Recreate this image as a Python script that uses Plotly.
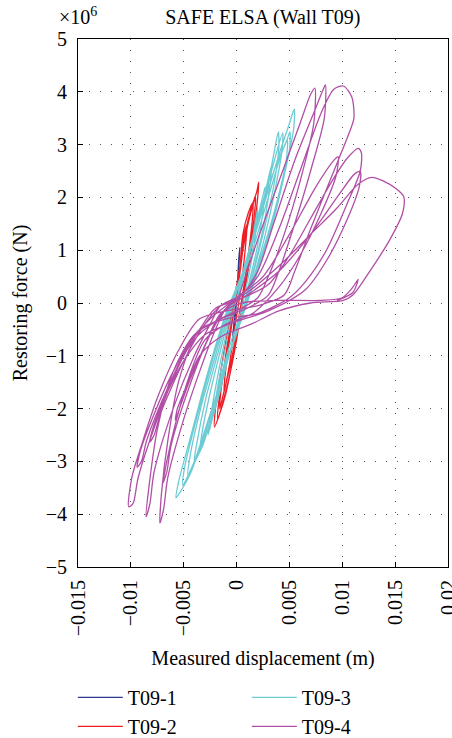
import plotly.graph_objects as go

# ---------------- data (displacement in mm, restoring force in 1e6 N) ----------------
t1_disp = [0.0, 0.1, 0.2, 0.3, 0.25, 0.1, -0.1, -0.3, -0.4, -0.35, -0.1, 0.1, 0.25, 0.2, 0.0, -0.2, -0.35]
t1_force = [0.0, 0.4, 0.8, 1.05, 0.8, 0.3, -0.2, -0.6, -0.8, -0.6, -0.1, 0.4, 0.95, 0.7, 0.1, -0.4, -0.7]

t2_disp = [0.0, 0.3, 0.6, 1.0, 0.9, 0.6, 0.2, -0.2, -0.7, -1.2, -1.1, -0.8, -0.3,
           0.2, 0.6, 1.1, 1.55, 1.5, 1.1, 0.6, 0.1, -0.5, -1.1, -1.6, -1.5, -1.1, -0.5,
           0.2, 0.8, 1.4, 1.9, 2.1, 2.0, 1.6, 1.0, 0.4, -0.3, -1.0, -1.6, -2.1, -2.0, -1.5, -0.8, -0.2,
           0.5, 1.2, 1.8, 1.7, 1.2, 0.6, 0.0, -0.8, -1.8, -1.7, -1.0, -0.3]
t2_force = [0.0, 0.6, 1.2, 1.5, 1.2, 0.6, 0.0, -0.5, -1.2, -1.7, -1.4, -0.9, -0.2,
            0.4, 1.3, 1.7, 1.9, 1.6, 0.9, 0.2, -0.4, -1.1, -1.6, -2.0, -1.7, -1.1, -0.3,
            0.4, 1.3, 1.8, 2.1, 2.29, 2.0, 1.3, 0.5, -0.2, -1.0, -1.7, -2.1, -2.35, -2.0, -1.3, -0.5, 0.1,
            0.9, 1.6, 2.0, 1.7, 0.9, 0.1, -0.7, -1.5, -2.2, -1.9, -1.0, -0.1]

t3_disp = [0.0, 0.8, 1.5, 2.0, 1.9, 1.5, 0.8, 0.2, -0.8, -1.6, -2.0, -1.8, -1.2, -0.5,
           0.3, 1.2, 2.0, 2.7, 2.6, 2.0, 1.2, 0.5, -0.6, -1.6, -2.3, -2.7, -2.5, -1.8, -1.0, -0.3,
           0.6, 1.6, 2.6, 3.3, 3.2, 2.6, 1.7, 0.8, -0.4, -1.6, -2.6, -3.5, -3.3, -2.5, -1.4, -0.4,
           0.5, 1.6, 2.7, 3.5, 3.95, 4.0, 3.5, 2.5, 1.5, 0.7, -0.6, -2.0, -3.2, -4.0, -3.8, -2.9, -1.7, -0.5,
           0.6, 2.0, 3.3, 4.36, 4.3, 3.6, 2.6, 1.5, 0.6, -0.8, -2.3, -3.7, -4.6, -4.4, -3.4, -2.0, -0.6,
           0.7, 2.2, 3.7, 4.7, 5.05, 5.0, 4.2, 3.0, 1.8, 0.8, -0.7, -2.5, -4.0, -5.1, -4.9, -3.8, -2.3, -0.8,
           0.8, 2.5, 4.0, 5.0, 5.46, 5.4, 4.6, 3.4, 2.0, 1.0, -0.7, -2.6, -4.3, -5.4, -5.73, -5.5, -4.3, -2.7, -1.0, 0.2,
           1.5, 3.0, 4.2, 4.8, 4.7, 3.8, 2.5, 1.2, 0.0]
t3_force = [0.0, 0.6, 1.2, 1.8, 1.5, 0.9, 0.2, -0.3, -0.9, -1.5, -1.9, -1.6, -1.0, -0.3,
            0.3, 1.0, 1.6, 2.2, 1.9, 1.1, 0.4, -0.2, -0.9, -1.7, -2.2, -2.5, -2.2, -1.4, -0.6, 0.0,
            0.6, 1.3, 2.0, 2.6, 2.3, 1.5, 0.7, 0.0, -0.8, -1.6, -2.3, -2.84, -2.5, -1.7, -0.8, 0.0,
            0.5, 1.2, 1.95, 2.8, 3.24, 2.95, 2.2, 1.3, 0.5, -0.1, -0.9, -1.9, -2.7, -3.0, -2.7, -1.8, -0.9, 0.0,
            0.6, 1.5, 2.5, 3.22, 2.9, 2.1, 1.2, 0.4, -0.2, -1.0, -2.0, -2.9, -3.26, -2.9, -2.0, -1.0, 0.0,
            0.6, 1.6, 2.6, 3.05, 3.24, 2.9, 2.2, 1.3, 0.5, -0.1, -1.0, -2.1, -3.0, -3.45, -3.1, -2.2, -1.1, -0.1,
            0.7, 1.8, 2.8, 3.4, 3.67, 3.3, 2.5, 1.5, 0.6, 0.0, -1.0, -2.2, -3.2, -3.6, -3.69, -3.4, -2.5, -1.3, -0.2, 0.3,
            1.0, 2.0, 2.8, 3.1, 2.7, 1.9, 1.0, 0.2, -0.5]

t4_disp = [0.0,
           0.5, 2.0, 4.0, 6.0, 7.0, 7.4, 7.3, 6.0, 4.5, 3.0, 2.0,
           0.0, -2.0, -4.0, -5.5, -6.5, -7.1, -7.25, -6.9, -6.5, -5.0, -3.5, -2.0, -1.0,
           0.5, 2.0, 3.5, 5.5, 7.5, 8.2, 8.4, 8.3, 7.0, 5.5, 4.0, 3.0,
           1.0, -1.5, -4.0, -6.0, -7.5, -8.3, -8.57, -8.2, -7.8, -6.0, -4.0, -2.5, -1.5,
           0.0, 2.0, 4.0, 6.0, 8.0, 9.2, 10.1, 10.9, 11.1, 10.8, 9.0, 7.0, 5.5, 4.5,
           2.0, -1.0, -3.5, -5.5, -7.5, -9.0, -9.9, -10.2, -9.8, -9.3, -7.5, -5.5, -3.5, -2.0,
           0.0, 3.0, 5.0, 7.0, 9.0, 10.5, 11.5, 11.8, 11.7, 10.5, 8.5, 6.5, 5.0,
           2.0, -1.0, -3.5, -6.0, -8.0, -9.1, -9.4, -9.0, -8.5, -6.5, -4.5, -2.5,
           0.0, 2.5, 5.0, 7.5, 9.2, 9.6, 9.4, 8.0, 6.0, 4.0,
           1.5, -1.0, -3.0, -4.5, -5.8, -6.6, -6.96, -6.6, -6.2, -4.5, -2.5, -1.0,
           1.0, 4.0, 7.0, 9.5, 11.2, 11.7, 11.6, 10.5, 8.5, 6.5,
           3.0, 0.0, -3.0, -5.0, -6.8, -7.8, -8.2, -7.8, -7.2, -5.0, -3.0, -1.5,
           1.0, 4.0, 7.0, 9.5, 11.5, 12.8, 14.0, 15.0, 15.8, 15.7, 14.5, 12.5, 11.0, 10.1,
           7.0, 4.0, 1.6, -1.5, -3.5, -5.0, -5.6, -5.8, -5.4, -4.5, -3.0, -1.5,
           0.5, 4.0, 8.0, 10.0, 11.0, 11.5, 11.0, 9.5]
t4_force = [0.0,
            0.3, 1.2, 2.3, 3.4, 3.95, 4.07, 3.4, 2.3, 1.3, 0.5, 0.1,
            -0.15, -0.35, -0.7, -1.5, -2.6, -3.6, -4.17, -3.9, -3.3, -2.2, -1.3, -0.5, -0.1,
            0.15, 0.6, 1.5, 2.7, 3.7, 4.05, 4.13, 3.5, 2.5, 1.5, 0.6, 0.15,
            -0.1, -0.3, -0.6, -1.3, -2.4, -3.5, -4.05, -3.8, -3.2, -2.0, -1.0, -0.4, -0.05,
            0.1, 0.5, 1.4, 2.5, 3.6, 4.05, 4.11, 3.9, 3.5, 3.3, 2.4, 1.4, 0.6, 0.15,
            -0.05, -0.15, -0.3, -0.9, -1.8, -2.7, -3.3, -3.86, -3.8, -3.3, -2.2, -1.2, -0.5, -0.1,
            0.05, 0.35, 0.9, 1.6, 2.3, 2.75, 2.93, 2.85, 2.5, 1.9, 1.0, 0.4, 0.1,
            -0.2, -0.3, -0.5, -1.3, -2.2, -2.8, -3.11, -3.0, -2.6, -1.6, -0.8, -0.3,
            0.1, 0.5, 1.3, 2.2, 2.7, 2.77, 2.4, 1.7, 0.9, 0.3,
            -0.2, -0.4, -0.7, -1.4, -2.3, -3.0, -3.41, -3.2, -2.7, -1.6, -0.6, -0.1,
            0.15, 0.6, 1.3, 2.0, 2.45, 2.49, 2.2, 1.6, 0.8, 0.25,
            -0.15, -0.35, -0.6, -1.1, -1.8, -2.3, -2.63, -2.5, -2.1, -1.1, -0.4, -0.05,
            0.2, 0.7, 1.3, 1.8, 2.25, 2.38, 2.3, 2.18, 2.02, 1.7, 1.2, 0.57, 0.15, 0.05,
            0.0, -0.15, -0.38, -0.64, -1.0, -1.7, -2.0, -2.22, -2.0, -1.5, -0.8, -0.2,
            0.0, 0.05, 0.05, 0.1, 0.3, 0.45, 0.2, 0.05]

series_names = ["T09-1", "T09-2", "T09-3", "T09-4"]
series_colors = ["#2e3a8f", "#ee1c25", "#6dcbd4", "#b14fa6"]
legend_ranks = [1, 3, 2, 4]

x_tick_vals = [-0.015, -0.01, -0.005, 0, 0.005, 0.01, 0.015, 0.02]
x_tick_text = ["\u22120.015", "\u22120.01", "\u22120.005", "0", "0.005", "0.01", "0.015", "0.02"]
y_tick_vals = [-5, -4, -3, -2, -1, 0, 1, 2, 3, 4, 5]
y_tick_text = ["\u22125", "\u22124", "\u22123", "\u22122", "\u22121", "0", "1", "2", "3", "4", "5"]

FONT = "'Liberation Serif', 'Times New Roman', serif"

fig = go.Figure()
all_disp = [t1_disp, t2_disp, t3_disp, t4_disp]
all_force = [t1_force, t2_force, t3_force, t4_force]
for name, col, rank, dx, fy in zip(series_names, series_colors, legend_ranks, all_disp, all_force):
    fig.add_trace(go.Scatter(
        x=[v / 1000.0 for v in dx], y=fy, mode="lines", name=name,
        line=dict(color=col, width=1.3, shape="spline", smoothing=0.8),
        legendrank=rank,
    ))

axis_common = dict(
    showline=True, linecolor="black", linewidth=1, mirror=True,
    ticks="inside", ticklen=5, tickcolor="black",
    showgrid=True, gridcolor="#555555", gridwidth=1, griddash="1px,10px",
    zeroline=False, automargin=False, ticklabeloverflow="allow",
    tickfont=dict(family=FONT, size=20, color="black"),
)

fig.update_xaxes(range=[-0.01500001, 0.02000001], tickvals=x_tick_vals, ticktext=x_tick_text,
                 tickangle=-90, ticklabelstandoff=4,
                 title=dict(text="Measured displacement (m)", font=dict(family=FONT, size=20, color="black"), standoff=15),
                 **axis_common)
fig.update_yaxes(range=[-5.0001, 5.0001], tickvals=y_tick_vals, ticktext=y_tick_text,
                 ticklabelstandoff=6,
                 title=dict(text="Restoring force (N)", font=dict(family=FONT, size=20, color="black"), standoff=12),
                 **axis_common)

fig.update_layout(
    width=452, height=738,
    margin=dict(l=78, r=4, t=39, b=171, autoexpand=False),
    paper_bgcolor="white", plot_bgcolor="white",
    title=dict(text="SAFE ELSA (Wall T09)", x=0.5815, xanchor="center", y=0.977, yanchor="middle",
               font=dict(family=FONT, size=20, color="black")),
    font=dict(family=FONT, size=20, color="black"),
    legend=dict(orientation="h", x=-0.014, xanchor="left", y=-0.210, yanchor="top",
                entrywidth=114, entrywidthmode="pixels", itemwidth=45, tracegroupgap=0,
                font=dict(family=FONT, size=20, color="black"), bgcolor="rgba(0,0,0,0)"),
    annotations=[dict(text="\u00d710<sup>6</sup>", xref="paper", yref="paper", x=0.0, y=1.0,
                      xanchor="center", yanchor="bottom", yshift=9, showarrow=False,
                      font=dict(family=FONT, size=20, color="black"))],
    showlegend=True,
)

fig.write_html("out.html")
